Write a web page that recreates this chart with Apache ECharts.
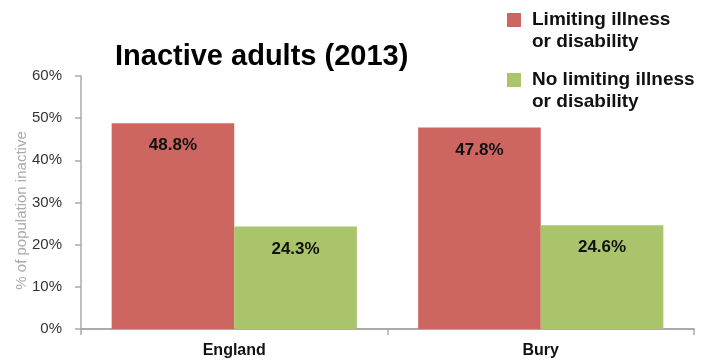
<!DOCTYPE html>
<html>
<head>
<meta charset="utf-8">
<script src="https://cdn.jsdelivr.net/npm/echarts@6/dist/echarts.min.js"></script>
<style>html,body{margin:0;padding:0;background:#fff}#c{width:708px;height:363px}</style>
</head>
<body>
<div id="c"></div>
<script>
const categories = ['England', 'Bury'];
const limitingValues = [48.8, 47.8];
const noLimitingValues = [24.3, 24.6];
const seriesNames = ['Limiting illness\nor disability', 'No limiting illness\nor disability'];
const yTicks = [0, 10, 20, 30, 40, 50, 60];

const chart = echarts.init(document.getElementById('c'), null, {renderer: 'canvas'});
const font = 'Liberation Sans, Arial, Helvetica, sans-serif';
const labelCfg = {
  show: true, position: 'insideTop', distance: 14,
  formatter: p => p.value.toFixed(1) + '%',
  fontFamily: font, fontSize: 17, fontWeight: 'bold', color: '#111'
};
chart.setOption({
  animation: false,
  backgroundColor: '#fff',
  title: {
    text: 'Inactive adults (2013)', left: 115, top: 42, padding: 0,
    textStyle: {fontFamily: font, fontSize: 29, fontWeight: 'bold', color: '#000'}
  },
  legend: {
    orient: 'vertical', left: 507, top: 9, padding: 0, itemGap: 16,
    itemWidth: 14, itemHeight: 36,
    icon: 'path://M0,0H14V14H0Z M0,36L0.01,36',
    data: seriesNames,
    textStyle: {fontFamily: font, fontSize: 19, fontWeight: 'bold', color: '#111',
      lineHeight: 22, padding: [0, 0, 0, 6]}
  },
  grid: {left: 81, right: 14, top: 76, bottom: 34, containLabel: false, outerBoundsMode: 'none'},
  xAxis: {
    type: 'category', data: categories,
    axisLine: {lineStyle: {color: '#aaa', width: 2}},
    axisTick: {show: true, length: 6, lineStyle: {color: '#aaa', width: 1.5}},
    axisLabel: {margin: 14, fontFamily: font, fontSize: 16, fontWeight: 'bold', color: '#111'}
  },
  yAxis: {
    type: 'value', min: yTicks[0], max: yTicks[yTicks.length - 1], interval: 10,
    name: '% of population inactive', nameLocation: 'middle', nameGap: 52, nameMoveOverlap: false,
    nameTextStyle: {fontFamily: font, fontSize: 15, color: '#aaa', padding: [0, 16, 0, 0]},
    axisLine: {show: true, lineStyle: {color: '#aaa', width: 1.5}},
    axisTick: {show: true, length: 6, lineStyle: {color: '#aaa', width: 1.5}},
    splitLine: {show: false},
    axisLabel: {margin: 19, formatter: v => v + '%', fontFamily: font, fontSize: 15, color: '#333'}
  },
  series: [
    {name: seriesNames[0], type: 'bar', data: limitingValues, barWidth: '40%', barGap: '0%',
      itemStyle: {color: '#cd6661'}, label: labelCfg},
    {name: seriesNames[1], type: 'bar', data: noLimitingValues, barWidth: '40%', barGap: '0%',
      itemStyle: {color: '#a9c46b'}, label: labelCfg}
  ]
});
</script>
</body>
</html>
